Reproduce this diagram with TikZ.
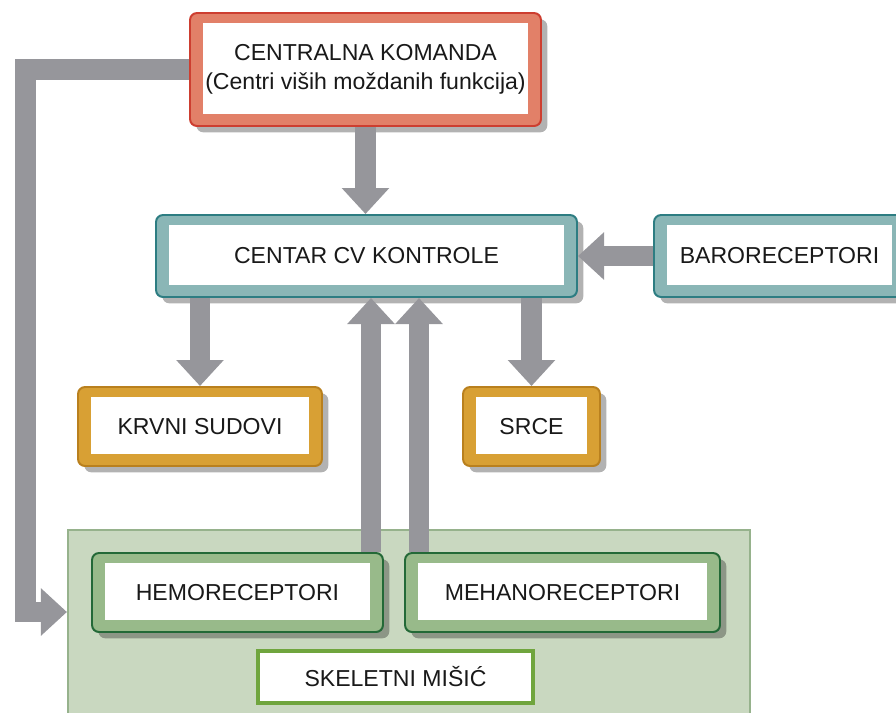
\documentclass[tikz,border=0pt]{standalone}
\usepackage{fontspec}
\setmainfont{Liberation Sans}
\usetikzlibrary{positioning,arrows.meta,calc,shadows}

\definecolor{txt}{RGB}{25,25,25}
\definecolor{arrgray}{RGB}{150,150,155}
\definecolor{redfill}{RGB}{226,128,104}
\definecolor{redline}{RGB}{205,62,48}
\definecolor{tealfill}{RGB}{138,182,182}
\definecolor{tealline}{RGB}{45,125,130}
\definecolor{goldfill}{RGB}{216,160,52}
\definecolor{goldline}{RGB}{185,128,30}
\definecolor{greenfill}{RGB}{152,186,138}
\definecolor{greenline}{RGB}{35,105,55}
\definecolor{panelfill}{RGB}{201,216,192}
\definecolor{panelline}{RGB}{150,178,140}
\definecolor{skelline}{RGB}{112,165,62}

\begin{document}
\begin{tikzpicture}[
  x=0.025cm, y=-0.025cm,
  font=\fontsize{16.4}{21}\selectfont,
  block/.style 2 args={draw=#2, fill=#1, line width=1.4pt, rounded corners=5pt,
    text=txt, align=center, inner sep=0pt,
    drop shadow={shadow xshift=4.5pt, shadow yshift=-4.5pt, fill=black, opacity=0.3},
    path picture={\fill[white, sharp corners]
      ([shift={(9.2pt,-7pt)}]path picture bounding box.north west) rectangle
      ([shift={(-9.2pt,8.5pt)}]path picture bounding box.south east);}},
  sz/.style 2 args={minimum width=#1*0.025cm, minimum height=#2*0.025cm},
  arr/.style={-{Triangle[width=32.7pt,length=18.5pt]}, line width=14.9pt, draw=arrgray}
]
\useasboundingbox (0,0) rectangle (896,712);
\clip (0,0) rectangle (896,712);

% muscle panel
\node[draw=panelline, fill=panelfill, line width=1.5pt, sz={682}{210}] (panel) at (409,635) {};

% nodes
\node[block={redfill}{redline}, sz={351}{113}] (komanda) at (365.5,69.5)
  {CENTRALNA KOMANDA\\(Centri viših moždanih funkcija)};
\node[block={tealfill}{tealline}, sz={421}{82}] (centar) at (366.5,256) {CENTAR CV KONTROLE};
\node[block={tealfill}{tealline}, sz={251}{82}] (baro) at (779.5,256) {BARORECEPTORI};
\node[block={goldfill}{goldline}, sz={244}{79}] (sudovi) at (200,426.5) {KRVNI SUDOVI};
\node[block={goldfill}{goldline}, sz={137}{79}] (srce) at (531.5,426.5) {SRCE};
\node[block={greenfill}{greenline}, sz={291}{79}] (hemo) at (237.5,592.5) {HEMORECEPTORI};
\node[block={greenfill}{greenline}, sz={315}{79}] (meha) at (562.5,592.5) {MEHANORECEPTORI};
\node[draw=skelline, fill=white, line width=2.2pt, text=txt, sz={275}{52}] (misic) at (395.5,677)
  {SKELETNI MIŠIĆ};

% turning points
\coordinate (loopTurn) at (25.5,612);
\coordinate (hemoUp) at (371,0);
\coordinate (mehaUp) at (419,0);

% arrows
\draw[arr] (komanda.south) -- (centar.north -| komanda.south);
\draw[arr] (baro.west) -- (centar.east |- baro.west);
\draw[arr] (sudovi.north |- centar.south) -- (sudovi.north);
\draw[arr] (srce.north |- centar.south) -- (srce.north);
\draw[arr] (hemo.north -| hemoUp) -- (centar.south -| hemoUp);
\draw[arr] (meha.north -| mehaUp) -- (centar.south -| mehaUp);
\draw[arr] (komanda.west) -| (loopTurn) -- (panel.west |- loopTurn);

\end{tikzpicture}
\end{document}
